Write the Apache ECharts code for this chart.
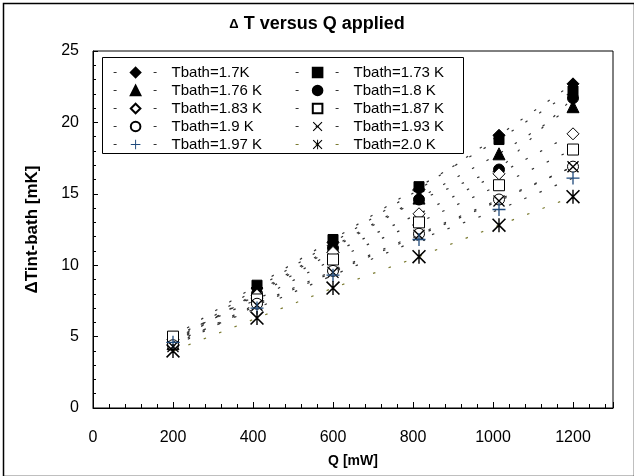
<!DOCTYPE html>
<html><head><meta charset="utf-8">
<script src="https://cdn.jsdelivr.net/npm/echarts@6/dist/echarts.min.js"></script>
<style>html,body{margin:0;padding:0;background:#fff}#c{width:634px;height:476px}</style>
</head><body><div id="c"></div>
<script>
// ---- data ----
var qValues = [200, 410, 600, 815, 1015, 1200];
var seriesNames = ['Tbath=1.7K','Tbath=1.73 K','Tbath=1.76 K','Tbath=1.8 K','Tbath=1.83 K',
                   'Tbath=1.87 K','Tbath=1.9 K','Tbath=1.93 K','Tbath=1.97 K','Tbath=2.0 K'];
var t170 = [4.6, 8.4, 11.6, 15.3, 19.1, 22.7];
var t173 = [5.0, 8.6, 11.8, 15.5, 18.8, 22.2];
var t176 = [4.5, 8.1, 11.3, 14.7, 17.8, 21.1];
var t180 = [4.6, 8.0, 11.2, 14.6, 16.7, 21.7];
var t183 = [4.8, 7.9, 10.9, 13.6, 16.4, 19.2];
var t187 = [5.0, 7.6, 10.4, 13.0, 15.6, 18.1];
var t190 = [4.4, 7.3, 9.6, 12.2, 14.6, 16.9];
var t193 = [4.3, 7.2, 9.5, 12.1, 14.5, 16.9];
var t197 = [4.6, 7.0, 9.3, 11.8, 13.9, 16.1];
var t200 = [4.0, 6.3, 8.4, 10.6, 12.8, 14.8];
var yTicks = [0, 5, 10, 15, 20, 25];
var xTicks = [0, 200, 400, 600, 800, 1000, 1200];

var seriesData = [t170,t173,t176,t180,t183,t187,t190,t193,t197,t200];

// ---- styles ----
var PLUS = 'path://M45,0L55,0L55,45L100,45L100,55L55,55L55,100L45,100L45,55L0,55L0,45L45,45Z';
var XS = 'path://M0,8L8,0L100,92L92,100Z M92,0L100,8L8,100L0,92Z';
var AST = 'path://M0,8L8,0L100,92L92,100Z M92,0L100,8L8,100L0,92Z M45,0L55,0L55,100L45,100Z';
var styles = [
  {symbol:'diamond', size:12, fill:'#000', border:'#000', line:'#333'},
  {symbol:'rect', size:10, fill:'#000', border:'#000', line:'#333'},
  {symbol:'triangle', size:12, fill:'#000', border:'#000', line:'#333'},
  {symbol:'circle', size:11, fill:'#000', border:'#000', line:'#333'},
  {symbol:'diamond', size:12, fill:'#fff', border:'#000', line:'#333'},
  {symbol:'rect', size:11, fill:'#fff', border:'#000', line:'#333'},
  {symbol:'circle', size:11, fill:'#fff', border:'#000', line:'#333'},
  {symbol:XS, size:12, fill:'#000', border:'#000', line:'#333', path:true},
  {symbol:PLUS, size:13, fill:'#1f4a7c', border:'#1f4a7c', line:'#333', path:true},
  {symbol:AST, size:14, fill:'#000', border:'#000', line:'#7a7a30', path:true}
];
var FONT = '"Liberation Sans", Arial, sans-serif';

var series = seriesData.map(function(vals, i){
  var s = styles[i];
  return {
    name: seriesNames[i], type:'line', xAxisIndex:0, yAxisIndex:0,
    data: qValues.map(function(q, j){ return [q, vals[j]]; }),
    symbol: s.symbol, symbolSize: s.size, showSymbol:true,
    itemStyle: {color: s.fill, borderColor: s.border, borderWidth: s.path ? 0 : 1, opacity:1},
    lineStyle: {color: s.line, width:1.2, type:[2.5,14]},
    emphasis:{disabled:true}, animation:false, z: 2 + i*0.01
  };
});

var legendCommon = {
  orient:'vertical', itemWidth:44, itemHeight:12, itemGap:3, padding:0,
  textStyle:{fontFamily:FONT, fontSize:15, color:'#000', padding:[0,0,0,9]},
  lineStyle:{type:[3,17], width:1.2},
  selectedMode:false
};

var chart = echarts.init(document.getElementById('c'), null, {renderer:'canvas'});
chart.setOption({
  backgroundColor:'#fff',
  animation:false,
  title:{text:'{d|Δ} T versus Q applied', left:'center', top:10,
    textStyle:{fontFamily:FONT, fontSize:18, fontWeight:'bold', color:'#000',
      rich:{d:{fontFamily:FONT, fontSize:13, fontWeight:'bold', color:'#000'}}}},
  grid:{left:93, right:21, top:51, bottom:68, show:true, borderColor:'#000', borderWidth:1},
  legend:[
    Object.assign({left:113, top:65, data:[seriesNames[0],seriesNames[2],seriesNames[4],seriesNames[6],seriesNames[8]]}, legendCommon),
    Object.assign({left:295, top:65, data:[seriesNames[1],seriesNames[3],seriesNames[5],seriesNames[7],seriesNames[9]]}, legendCommon)
  ],
  xAxis:[{
    type:'value', min:0, max:1300, interval:200,
    name:'Q [mW]', nameLocation:'middle', nameGap:46,
    nameTextStyle:{fontFamily:FONT, fontSize:14, fontWeight:'bold', color:'#000'},
    axisLine:{lineStyle:{color:'#000', width:1}},
    axisTick:{inside:true, length:6, lineStyle:{color:'#000'}},
    axisLabel:{fontFamily:FONT, fontSize:16, color:'#000', margin:22,
      formatter:function(v){ return xTicks.indexOf(v) >= 0 ? String(v) : ''; }},
    splitLine:{show:false}
  },{
    type:'value', min:0, max:1300, interval:40, position:'bottom',
    axisLine:{show:false}, axisLabel:{show:false}, splitLine:{show:false},
    axisTick:{inside:true, length:4, lineStyle:{color:'#000'}}
  }],
  yAxis:{
    type:'value', min:0, max:25, interval:5,
    name:'ΔTint-bath [mK]', nameLocation:'middle', nameGap:52,
    nameTextStyle:{fontFamily:FONT, fontSize:17, fontWeight:'bold', color:'#000'},
    axisLine:{lineStyle:{color:'#000', width:1}},
    axisTick:{inside:true, length:5, lineStyle:{color:'#000'}},
    minorTick:{show:true, splitNumber:5, length:3, lineStyle:{color:'#000'}},
    axisLabel:{fontFamily:FONT, fontSize:16, color:'#000', margin:14,
      formatter:function(v){ return yTicks.indexOf(v) >= 0 ? String(v) : ''; }},
    splitLine:{show:false}
  },
  graphic:[
    {type:'rect', left:1, top:1, shape:{width:631, height:473}, style:{fill:null, stroke:'#000', lineWidth:1.5}, silent:true, z:-1},
    {type:'rect', left:102, top:57, shape:{width:361, height:96}, style:{fill:'#fff', stroke:'#000', lineWidth:1}, silent:true, z:0}
  ],
  series: series
});
</script></body></html>
